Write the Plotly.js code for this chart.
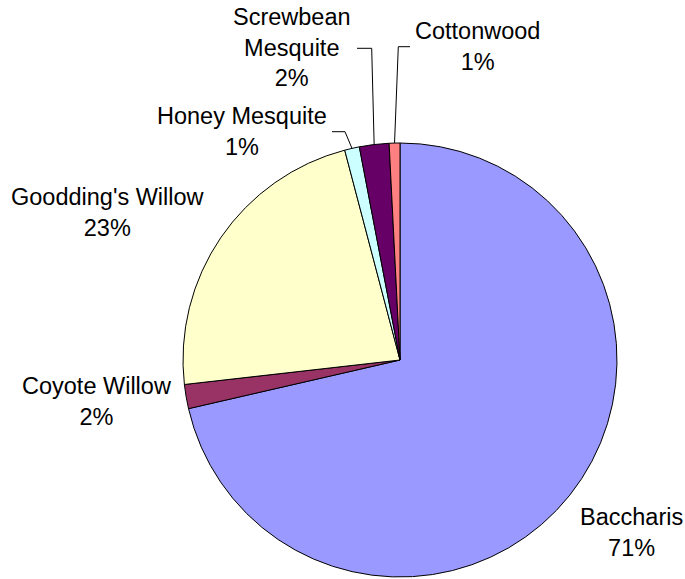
<!DOCTYPE html>
<html>
<head>
<meta charset="utf-8">
<script src="https://cdn.plot.ly/plotly-3.0.1.min.js"></script>
<style>
  html, body { margin: 0; padding: 0; background: #ffffff; }
  #chart { width: 685px; height: 579px; }
</style>
</head>
<body>
<div id="chart"></div>
<script>
// ---- data ----
const categories = ["Baccharis", "Coyote Willow", "Goodding's Willow", "Honey Mesquite", "Screwbean Mesquite", "Cottonwood"];
const values = [71.4, 1.8, 22.7, 1.1, 2.2, 0.8];
const labelTexts = ["Baccharis", "Coyote Willow", "Goodding's Willow", "Honey Mesquite", "Screwbean<br>Mesquite", "Cottonwood"];
const colors = ["#9999FF", "#993366", "#FFFFCC", "#CCFFFF", "#660066", "#FF8080"];

// ---- layout config (pixels) ----
const W = 685, H = 579;
const CX = 400, CY = 360, R = 217;
const labelCenters = [[631, 532], [97, 401], [108, 213], [242, 131], [292, 47.5], [477.5, 47]];
const leaders = {
  3: {start: [332, 131.7], elbow: [345, 131.7]},
  4: {start: [357, 48.3], elbow: [371.7, 48.3]},
  5: {start: [410, 46.7], elbow: [398.3, 46.7]}
};

const px = x => x / W;
const py = y => 1 - y / H;

const total = values.reduce((a, b) => a + b, 0);
let cum = 0;
const midAngles = values.map(v => {
  const a0 = cum / total * 360;
  cum += v;
  const a1 = cum / total * 360;
  return (a0 + a1) / 2;
});

const annotations = categories.map((c, i) => ({
  xref: 'paper', yref: 'paper',
  x: px(labelCenters[i][0]), y: py(labelCenters[i][1]),
  xanchor: 'center', yanchor: 'middle',
  showarrow: false,
  align: 'center',
  text: labelTexts[i] + '<br>' + Math.round(values[i] / total * 100) + '%',
  font: {family: 'Liberation Sans, Arial, sans-serif', size: 23.5, color: '#000000'}
}));

const shapes = Object.keys(leaders).map(k => {
  const i = +k;
  const th = midAngles[i] * Math.PI / 180;
  const ex = CX + R * Math.sin(th);
  const ey = CY - R * Math.cos(th);
  const L = leaders[k];
  return {
    type: 'path', xref: 'paper', yref: 'paper',
    path: `M ${px(L.start[0])} ${py(L.start[1])} L ${px(L.elbow[0])} ${py(L.elbow[1])} L ${px(ex)} ${py(ey)}`,
    line: {color: '#000000', width: 1}
  };
});

const trace = {
  type: 'pie',
  labels: categories,
  values: values,
  sort: false,
  direction: 'clockwise',
  rotation: 0,
  textinfo: 'none',
  hoverinfo: 'label+percent',
  marker: {colors: colors, line: {color: '#000000', width: 1}},
  domain: {x: [(CX - R) / W, (CX + R) / W], y: [(H - CY - R) / H, (H - CY + R) / H]}
};

const layout = {
  width: W, height: H,
  margin: {l: 0, r: 0, t: 0, b: 0},
  paper_bgcolor: '#ffffff',
  plot_bgcolor: '#ffffff',
  showlegend: false,
  annotations: annotations,
  shapes: shapes
};

Plotly.newPlot('chart', [trace], layout, {displayModeBar: false, staticPlot: true});
</script>
</body>
</html>
